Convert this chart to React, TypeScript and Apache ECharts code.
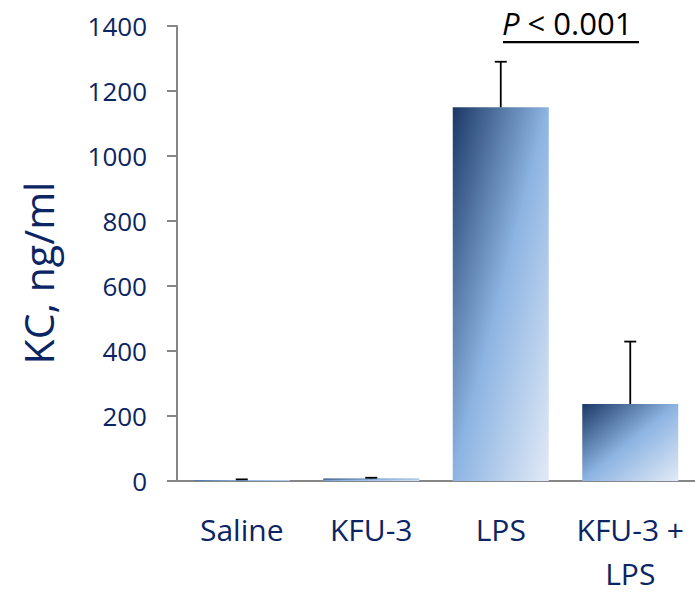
import React, { useEffect, useRef } from "react";
import * as echarts from "echarts";

const categories = ["Saline", "KFU-3", "LPS", "KFU-3 +\nLPS"];
const means = [3, 8, 1150, 237];
const errors = [2, 2, 140, 192];
const yTicks = { min: 0, max: 1400, interval: 200 };
const yName = "KC, ng/ml";
const sigText = "< 0.001";

const TEXT = "#0b2463";
const AXIS = "#868686";
const FONT = "'Open Sans', sans-serif";

export default function App() {
  const ref = useRef<HTMLDivElement>(null);
  useEffect(() => {
    if (!ref.current) return;
    const chart = echarts.init(ref.current, undefined, { renderer: "svg" });
    const grad = new echarts.graphic.LinearGradient(0, 0, 1, 1, [
      { offset: 0, color: "#1b3865" },
      { offset: 0.5, color: "#8db4e2" },
      { offset: 1, color: "#e2eaf6" },
    ]);
    chart.setOption({
      animation: false,
      backgroundColor: "#ffffff",
      grid: { left: 177, top: 26, width: 522, height: 458.5, containLabel: false },
      xAxis: {
        type: "category",
        data: categories,
        axisLine: { lineStyle: { color: AXIS, width: 2 } },
        axisTick: { show: false },
        axisLabel: {
          color: TEXT,
          fontFamily: FONT,
          fontSize: 30,
          lineHeight: 44,
          margin: 26,
          interval: 0,
        },
      },
      yAxis: {
        type: "value",
        min: yTicks.min,
        max: yTicks.max,
        interval: yTicks.interval,
        axisLine: { show: true, lineStyle: { color: AXIS, width: 2 } },
        axisTick: { show: true, length: 10, lineStyle: { color: AXIS, width: 2 } },
        splitLine: { show: false },
        axisLabel: {
          color: TEXT,
          fontFamily: FONT,
          fontSize: 26,
          margin: 30,
          formatter: (v: number) => String(v),
        },
      },
      series: [
        {
          type: "bar",
          data: means,
          barWidth: 96,
          itemStyle: { color: grad },
          z: 2,
        },
        {
          type: "custom",
          z: 3,
          data: means.map((m, i) => [i, m, m + errors[i]]),
          renderItem: (params: any, api: any) => {
            const x = api.value(0);
            const lo = api.coord([x, api.value(1)]);
            const hi = api.coord([x, api.value(2)]);
            const style = { stroke: "#000000", lineWidth: 1.8 };
            return {
              type: "group",
              children: [
                { type: "line", shape: { x1: lo[0], y1: lo[1], x2: hi[0], y2: hi[1] }, style },
                { type: "line", shape: { x1: hi[0] - 6, y1: hi[1], x2: hi[0] + 6, y2: hi[1] }, style },
              ],
            };
          },
        },
      ],
      graphic: [
        {
          type: "text",
          x: 38,
          y: 273,
          rotation: Math.PI / 2,
          style: {
            text: yName,
            fill: TEXT,
            font: `41px ${FONT}`,
            align: "center",
            verticalAlign: "middle",
          },
        },
        {
          type: "text",
          left: 502,
          top: 7,
          style: {
            text: "{i|P} " + sigText,
            fill: "#000000",
            font: `31px ${FONT}`,
            rich: {
              i: { fontStyle: "italic", fontSize: 31, fontFamily: FONT, fill: "#000000" },
            },
          },
        },
        {
          type: "rect",
          shape: { x: 503, y: 41, width: 136, height: 2.2 },
          style: { fill: "#000000" },
        },
      ],
    });
    return () => chart.dispose();
  }, []);
  return (
    <div
      ref={ref}
      style={{ position: "fixed", left: 0, top: 0, width: 695, height: 595 }}
    />
  );
}
